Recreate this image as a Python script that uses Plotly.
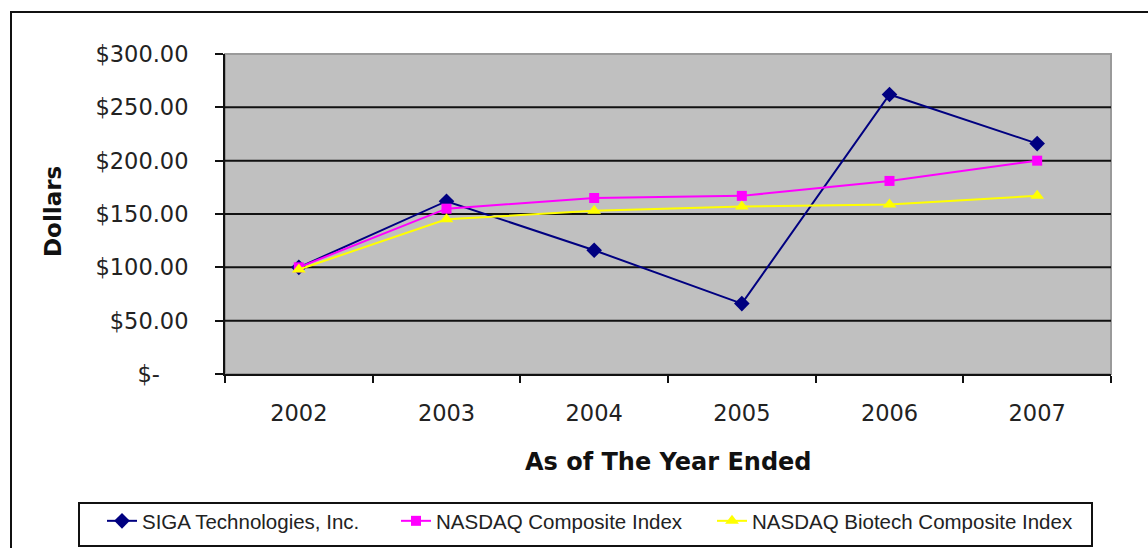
import plotly.graph_objects as go

# ---- data ----
years = ["2002", "2003", "2004", "2005", "2006", "2007"]
siga = [100, 162, 116, 66, 262, 216]
nasdaq = [100, 155, 165, 167, 181, 200]
biotech = [98, 145, 153, 157, 159, 167]

series_names = ["SIGA Technologies, Inc.", "NASDAQ Composite Index", "NASDAQ Biotech Composite Index"]
y_ticks = [0, 50, 100, 150, 200, 250, 300]
# accounting-style zero: dash padded to the right like the original
y_ticktext = ["$-" + "&nbsp;" * 4 if v == 0 else "${:,.2f}".format(v) for v in y_ticks]

# ---- layout constants (pixels) ----
W, H = 1148, 548
L, R, T, B = 225, 37, 54, 174
PW, PH = W - L - R, H - T - B


def px_x(px):
    return (px - L) / PW


def px_y(py):
    return (H - B - py) / PH


fig = go.Figure()

styles = [
    dict(color="#000080", symbol="diamond", size=12),
    dict(color="#FF00FF", symbol="square", size=10),
    dict(color="#FFFF00", symbol="triangle-up", size=12),
]
data = [siga, nasdaq, biotech]
legends = ["legend", "legend2", "legend3"]

for name, vals, st, lg in zip(series_names, data, styles, legends):
    fig.add_trace(go.Scatter(
        x=years, y=vals, name=name, mode="lines+markers",
        line=dict(color=st["color"], width=2),
        marker=dict(color=st["color"], symbol=st["symbol"], size=st["size"]),
        legend=lg,
    ))

shapes = []
# plot-area border (gray)
shapes.append(dict(type="rect", xref="paper", yref="paper", x0=0, x1=1, y0=0, y1=1,
                   line=dict(color="#9a9a9a", width=2), layer="below"))
# black gridlines for interior ticks
for v in y_ticks[1:-1]:
    shapes.append(dict(type="line", xref="paper", yref="y", x0=0, x1=1, y0=v, y1=v,
                       line=dict(color="#111111", width=2), layer="below"))
# outer chart border (top and left visible)
shapes.append(dict(type="rect", xref="paper", yref="paper",
                   x0=px_x(11), x1=px_x(1200), y0=px_y(600), y1=px_y(12),
                   line=dict(color="#111111", width=2), fillcolor="rgba(0,0,0,0)", layer="above"))
# legend box
shapes.append(dict(type="rect", xref="paper", yref="paper",
                   x0=px_x(79), x1=px_x(1092), y0=px_y(546), y1=px_y(503),
                   line=dict(color="#111111", width=2), fillcolor="white", layer="above"))

legend_font = dict(family="Liberation Sans, Arial, sans-serif", size=20.5, color="#222222")
text_starts = [147, 441, 757]
leg_cfg = {}
for lg, ts in zip(legends, text_starts):
    leg_cfg[lg] = dict(
        x=px_x(ts - 45), xanchor="left", y=px_y(521), yanchor="middle",
        orientation="h", bgcolor="rgba(0,0,0,0)", borderwidth=0,
        font=legend_font, itemclick=False,
    )

tick_font = dict(family="DejaVu Sans, sans-serif", size=22.5, color="#222222")

fig.update_layout(
    width=W, height=H,
    margin=dict(l=L, r=R, t=T, b=B, autoexpand=False),
    paper_bgcolor="white",
    plot_bgcolor="#C0C0C0",
    showlegend=True,
    shapes=shapes,
    xaxis=dict(
        type="category", range=[-0.5, 5.5],
        showgrid=False, zeroline=False,
        showline=True, linecolor="#111111", linewidth=2,
        ticks="outside", ticklen=7, tickwidth=2, tickcolor="#111111",
        tickson="boundaries", tickfont=tick_font, ticklabelstandoff=18,
    ),
    yaxis=dict(
        range=[0, 300], tickvals=y_ticks, ticktext=y_ticktext,
        showgrid=False, zeroline=False,
        showline=True, linecolor="#111111", linewidth=2,
        ticks="outside", ticklen=8, tickwidth=2, tickcolor="#111111",
        tickfont=tick_font, ticklabelstandoff=22,
    ),
    annotations=[
        dict(text="<b>Dollars</b>", xref="paper", yref="paper", x=px_x(53), y=px_y(212),
             xanchor="center", yanchor="middle", textangle=-90, showarrow=False,
             font=dict(family="DejaVu Sans, sans-serif", size=23, color="#111111")),
        dict(text="<b>As of The Year Ended</b>", xref="paper", yref="paper", x=0.5, y=px_y(462),
             xanchor="center", yanchor="middle", showarrow=False,
             font=dict(family="DejaVu Sans, sans-serif", size=24, color="#111111")),
    ],
    **leg_cfg,
)

fig.write_html("out.html", config={"displayModeBar": False},
               post_script="document.body.style.margin='0';")
